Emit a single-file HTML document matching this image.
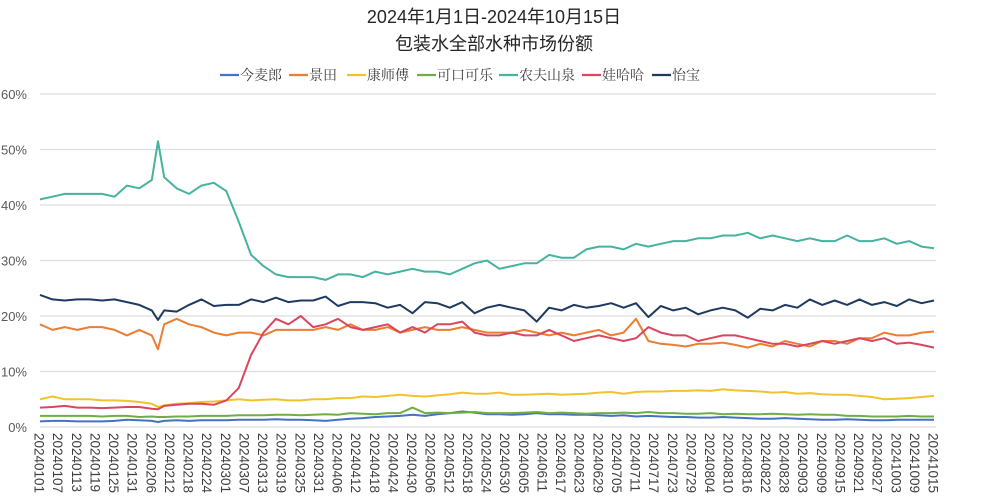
<!DOCTYPE html>
<html><head><meta charset="utf-8">
<style>
html,body{margin:0;padding:0;background:#fff;}
svg{display:block;}
.t{font-family:"Liberation Sans","Noto Sans CJK SC",sans-serif;}
.lg{font-family:"Liberation Serif","Noto Serif CJK SC",serif;font-size:14px;fill:#404040;}
</style></head>
<body>
<svg id="chart" width="989" height="500" viewBox="0 0 989 500" xmlns="http://www.w3.org/2000/svg">
<text class="t" x="494" y="23" text-anchor="middle" font-size="18" fill="#262626">2024年1月1日-2024年10月15日</text>
<text class="t" x="494" y="50" text-anchor="middle" font-size="18" fill="#262626">包装水全部水种市场份额</text>
<g id="grid"></g>
<g id="yaxis"></g>
<g id="xaxis"></g>
<g id="series"></g>
<g id="legend"></g>
</svg>
<script>
const days = [0,4,8,12,16,20,24,28,32,36,38,40,44,48,52,56,60,64,68,72,76,80,84,88,92,96,100,104,108,112,116,120,124,128,132,136,140,144,148,152,156,160,164,168,172,176,180,184,188,192,196,200,204,208,212,216,220,224,228,232,236,240,244,248,252,256,260,264,268,272,276,280,284,288];
const xTickLabels = ["20240101","20240107","20240113","20240119","20240125","20240131","20240206","20240212","20240218","20240224","20240301","20240307","20240313","20240319","20240325","20240331","20240406","20240412","20240418","20240424","20240430","20240506","20240512","20240518","20240524","20240530","20240605","20240611","20240617","20240623","20240629","20240705","20240711","20240717","20240723","20240729","20240804","20240810","20240816","20240822","20240828","20240903","20240909","20240915","20240921","20240927","20241003","20241009","20241015"];
const yTicks = [0,10,20,30,40,50,60];
const seriesNames = ["今麦郎","景田","康师傅","可口可乐","农夫山泉","娃哈哈","怡宝"];
const jinmailang = [1,1.1,1.1,1,1,1,1.1,1.3,1.2,1.1,0.9,1.1,1.2,1.1,1.2,1.2,1.2,1.3,1.3,1.3,1.4,1.3,1.3,1.2,1.1,1.3,1.5,1.6,1.8,1.9,2,2.2,2,2.3,2.5,2.8,2.6,2.3,2.3,2.2,2.3,2.5,2.3,2.3,2.2,2.2,2.1,2,2.1,1.9,2,1.9,1.8,1.8,1.7,1.7,1.8,1.7,1.6,1.5,1.5,1.6,1.5,1.4,1.3,1.3,1.4,1.3,1.2,1.2,1.3,1.3,1.3,1.3];
const jingtian = [18.5,17.5,18,17.5,18,18,17.5,16.5,17.5,16.5,14,18.5,19.5,18.5,18,17,16.5,17,17,16.5,17.5,17.5,17.5,17.5,18,17.5,18.5,17.5,17.5,18,17,17.5,18,17.5,17.5,18,17.5,17,17,17,17.5,17,16.5,17,16.5,17,17.5,16.5,17,19.5,15.5,15,14.8,14.5,15,15,15.2,14.8,14.3,15,14.5,15.5,15,14.5,15.5,15.5,15,16,16,17,16.5,16.5,17,17.2];
const kangshifu = [5,5.5,5,5,5,4.8,4.8,4.7,4.5,4.2,3.6,3.9,4.2,4.3,4.5,4.6,4.8,5,4.8,4.9,5,4.8,4.8,5,5,5.2,5.2,5.5,5.4,5.6,5.8,5.6,5.5,5.7,5.9,6.2,6,6,6.2,5.8,5.8,5.9,6,5.8,5.9,6,6.2,6.3,6,6.3,6.4,6.4,6.5,6.5,6.6,6.5,6.8,6.6,6.5,6.4,6.2,6.3,6,6.1,5.9,5.8,5.8,5.6,5.4,5,5.1,5.2,5.4,5.6];
const kekoukele = [2,2,2,2,2,1.9,2,2,1.8,1.9,1.8,1.8,1.9,1.9,2,2,2,2.1,2.1,2.1,2.2,2.2,2.1,2.2,2.3,2.2,2.5,2.4,2.3,2.5,2.5,3.5,2.5,2.6,2.5,2.6,2.7,2.5,2.5,2.5,2.6,2.7,2.5,2.6,2.5,2.4,2.5,2.5,2.6,2.5,2.7,2.5,2.5,2.4,2.4,2.5,2.3,2.4,2.3,2.3,2.4,2.3,2.2,2.3,2.2,2.2,2,2,1.9,1.9,1.9,2,1.9,1.9];
const nongfu = [41,41.5,42,42,42,42,41.5,43.5,43,44.5,51.5,45,43,42,43.5,44,42.5,37,31,29,27.5,27,27,27,26.5,27.5,27.5,27,28,27.5,28,28.5,28,28,27.5,28.5,29.5,30,28.5,29,29.5,29.5,31,30.5,30.5,32,32.5,32.5,32,33,32.5,33,33.5,33.5,34,34,34.5,34.5,35,34,34.5,34,33.5,34,33.5,33.5,34.5,33.5,33.5,34,33,33.5,32.5,32.2];
const wahaha = [3.5,3.6,3.8,3.5,3.5,3.4,3.5,3.6,3.6,3.3,3.2,3.8,4,4.2,4.2,4,4.8,7,13,17,19.5,18.5,20,18,18.5,19.5,18,17.5,18,18.5,17,18,17,18.5,18.5,19,17,16.5,16.5,17,16.5,16.5,17.5,16.5,15.5,16,16.5,16,15.5,16,18,17,16.5,16.5,15.5,16,16.5,16.5,16,15.5,15,15,14.5,15,15.5,15,15.5,16,15.5,16,15,15.2,14.8,14.3];
const yibao = [23.8,23,22.8,23,23,22.8,23,22.5,22,21,19.3,21,20.8,22,23,21.8,22,22,23,22.5,23.3,22.5,22.8,22.8,23.5,21.8,22.5,22.5,22.3,21.5,22,20.5,22.5,22.3,21.5,22.5,20.5,21.5,22,21.5,21,19,21.5,21,22,21.5,21.8,22.3,21.5,22.3,19.8,21.8,21,21.5,20.3,21,21.5,21,19.7,21.3,21,22,21.5,23,22,22.8,22,23,22,22.5,21.8,23,22.3,22.8];
const seriesColors = ["#4472c4","#ed7d31","#f2c12e","#70ad47","#45b39d","#d9475f","#1f3a60"];

const NS = "http://www.w3.org/2000/svg";
const X0 = 40, X1 = 934, Y0 = 427, Y1 = 94, DMAX = 288;
function xScale(d){ return X0 + d/DMAX*(X1-X0); }
function yScale(v){ return Y0 - v/60*(Y0-Y1); }

const grid = document.getElementById('grid');
const yaxis = document.getElementById('yaxis');
yTicks.forEach(v=>{
  const l = document.createElementNS(NS,'line');
  l.setAttribute('x1',X0); l.setAttribute('x2',936);
  l.setAttribute('y1',yScale(v)); l.setAttribute('y2',yScale(v));
  l.setAttribute('stroke','#dedede'); l.setAttribute('stroke-width','1.2');
  
  
  grid.appendChild(l);
  const t = document.createElementNS(NS,'text');
  t.setAttribute('x',27); t.setAttribute('y',yScale(v)+5);
  t.setAttribute('text-anchor','end'); t.setAttribute('class','t');
  t.setAttribute('font-size','13'); t.setAttribute('fill','#595959');
  t.textContent = v+'%';
  
  
  yaxis.appendChild(t);
});

const xaxis = document.getElementById('xaxis');
xTickLabels.forEach((lab,i)=>{
  const x = xScale(i*6);
  const t = document.createElementNS(NS,'text');
  t.setAttribute('class','t'); t.setAttribute('font-size','13.5'); t.setAttribute('fill','#404040');
  t.setAttribute('transform','translate('+(x-1)+',433) rotate(90)');
  t.setAttribute('x',0); t.setAttribute('y',0);
  t.setAttribute('dominant-baseline','central');
  t.textContent = lab;
  
  
  xaxis.appendChild(t);
});

const allSeries = [jinmailang,jingtian,kangshifu,kekoukele,nongfu,wahaha,yibao];
const sg = document.getElementById('series');
allSeries.forEach((vals,k)=>{
  const p = document.createElementNS(NS,'path');
  let d = '';
  vals.forEach((v,i)=>{ d += (i?'L':'M') + xScale(days[i]).toFixed(1) + ' ' + yScale(v).toFixed(1) + ' '; });
  p.setAttribute('d',d);
  p.setAttribute('fill','none'); p.setAttribute('stroke',seriesColors[k]);
  p.setAttribute('stroke-width','2'); p.setAttribute('stroke-linejoin','round');
  
  
  sg.appendChild(p);
});

const legendX = [220,289,347,417,499,582,652];
const lg = document.getElementById('legend');
seriesNames.forEach((n,k)=>{
  const g = document.createElementNS(NS,'g');
  
  
  const l = document.createElementNS(NS,'line');
  l.setAttribute('x1',legendX[k]); l.setAttribute('x2',legendX[k]+19);
  l.setAttribute('y1',75); l.setAttribute('y2',75);
  l.setAttribute('stroke',seriesColors[k]); l.setAttribute('stroke-width','2.2');
  
  
  g.appendChild(l);
  const t = document.createElementNS(NS,'text');
  t.setAttribute('x',legendX[k]+20); t.setAttribute('y',80);
  t.setAttribute('class','lg');
  t.textContent = n;
  
  
  g.appendChild(t);
  lg.appendChild(g);
});
</script>
</body></html>
